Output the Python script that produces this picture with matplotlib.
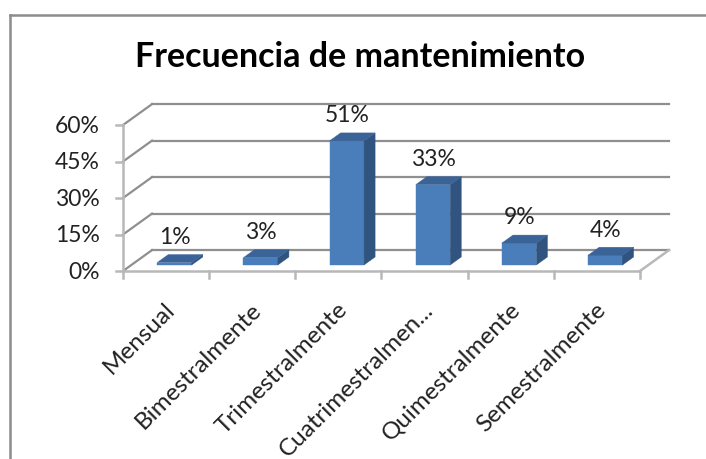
"""Recreate the Excel-style 3D column chart "Frecuencia de mantenimiento"."""

import matplotlib
matplotlib.use("Agg")
import matplotlib.pyplot as plt
from matplotlib.lines import Line2D
from matplotlib.patches import Polygon

categories = ["Mensual", "Bimestralmente", "Trimestralmente",
              "Cuatrimestralmen...", "Quimestralmente", "Semestralmente"]
values = [1, 3, 51, 33, 9, 4]
value_labels = ["1%", "3%", "51%", "33%", "9%", "4%"]
y_ticks = [0, 15, 30, 45, 60]
y_tick_labels = ["0%", "15%", "30%", "45%", "60%"]

# box depth (offset of the back wall) and where the columns sit in it
DEPTH_X = 0.337
DEPTH_Y = 8.6
BAR_D0, BAR_D1 = 0.29, 0.67
BAR_HALF = 0.2

FRONT = "#4a7ebb"
TOP = "#3a6498"
SIDE = "#30547f"
GRID = "#8f8f8f"
FLOOR = "#b8b8b8"
FONT = "Lato"
TXT = 16.5


def proj(x, y, d):
    """Shift a front point (x, y) back by depth fraction d."""
    return x + d * DEPTH_X, y + d * DEPTH_Y


def draw_box(ax, n):
    top = max(y_ticks)
    # back wall gridlines and left wall
    for v in y_ticks:
        ax.plot(*zip(proj(0, v, 1), proj(n, v, 1)), color=GRID, lw=1.6, zorder=1)
        ax.plot(*zip(proj(0, v, 0), proj(0, v, 1)), color=GRID, lw=1.6, zorder=1)
    # floor
    ax.plot(*zip(proj(0, 0, 0), proj(n, 0, 0)), color=FLOOR, lw=1.8, zorder=1)
    ax.plot(*zip(proj(n, 0, 0), proj(n, 0, 1)), color=FLOOR, lw=1.8, zorder=1)
    # front value axis with ticks
    ax.plot([0, 0], [0, top], color=FLOOR, lw=1.8, zorder=1)
    for v, lab in zip(y_ticks, y_tick_labels):
        ax.plot([-0.08, 0], [v, v], color=FLOOR, lw=1.8, zorder=1)
        ax.text(-0.27, v, lab, ha="right", va="center", fontsize=TXT,
                family=FONT, color="#222222")
    # category ticks and labels
    for i in range(n + 1):
        ax.plot([i, i], [0, -2.9], color=FLOOR, lw=1.8, zorder=1)
    for i, lab in enumerate(categories):
        ax.text(i + 0.48, -11.0, lab, rotation=45, rotation_mode="anchor",
                ha="right", va="top", fontsize=17.5, family=FONT, color="#222222")


def draw_bar(ax, x, v):
    l, r = x - BAR_HALF, x + BAR_HALF
    front = [proj(l, 0, BAR_D0), proj(r, 0, BAR_D0), proj(r, v, BAR_D0), proj(l, v, BAR_D0)]
    side = [proj(r, 0, BAR_D0), proj(r, 0, BAR_D1), proj(r, v, BAR_D1), proj(r, v, BAR_D0)]
    top = [proj(l, v, BAR_D0), proj(r, v, BAR_D0), proj(r, v, BAR_D1), proj(l, v, BAR_D1)]
    for pts, col in ((front, FRONT), (side, SIDE), (top, TOP)):
        ax.add_patch(Polygon(pts, closed=True, facecolor=col, edgecolor=col,
                             lw=0.3, zorder=3))


def main() -> None:
    fig = plt.figure(figsize=(7.06, 4.6), dpi=100)
    ax = fig.add_axes([0, 0, 1, 1])
    ax.set_xlim(-1.4274, 6.766)
    ax.set_ylim(-77.27, 111.8)
    ax.axis("off")

    n = len(categories)
    draw_box(ax, n)
    for i, (v, lab) in enumerate(zip(values, value_labels)):
        draw_bar(ax, i + 0.5, v)
        lx, _ = proj(i + 0.5, v, BAR_D0)
        _, ly = proj(i + 0.5, v, BAR_D1)
        ax.annotate(lab, (lx, ly), xytext=(0, 5.5), textcoords="offset points",
                    ha="center", va="bottom", fontsize=TXT, family=FONT,
                    color="#222222", zorder=4)

    fig.text(0.51, 1 - 57 / 460, "Frecuencia de mantenimiento", ha="center",
             va="center", fontsize=24.5, weight="bold", family=FONT, color="black")

    # chart-area border (top and left edges visible in the crop)
    fig.add_artist(Line2D([10 / 706, 1], [1 - 16 / 460] * 2, color="#8c8c8c", lw=1.8))
    fig.add_artist(Line2D([10 / 706] * 2, [0, 1 - 16 / 460], color="#8c8c8c", lw=1.8))

    fig.savefig("out.png", dpi=100)


if __name__ == "__main__":
    main()
